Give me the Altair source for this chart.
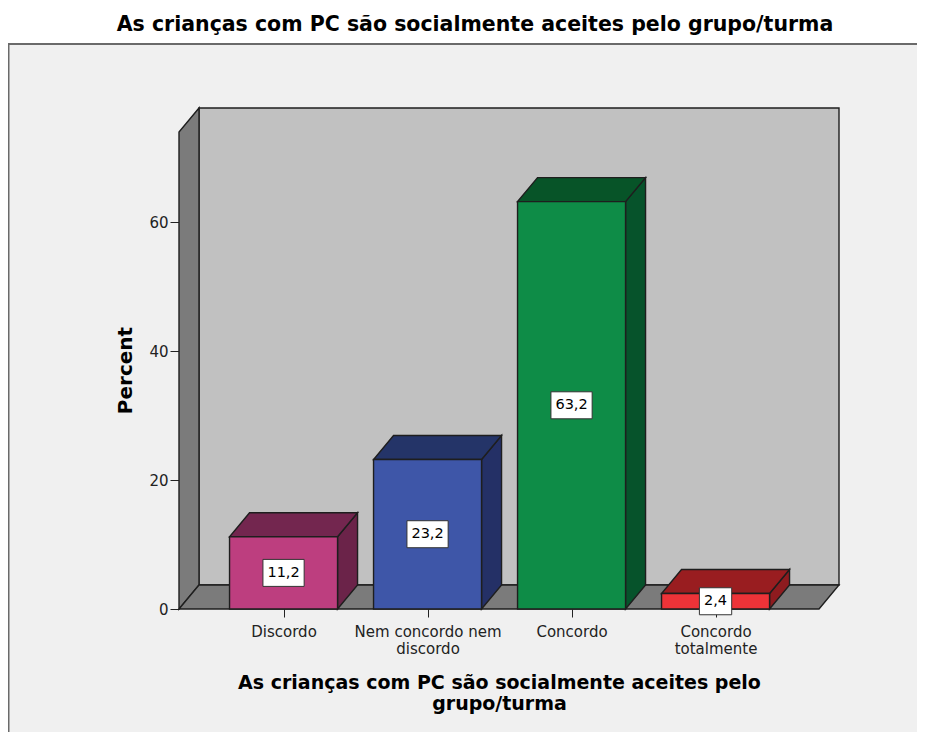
import json
import altair as alt
import pandas as pd

# ---------------- data ----------------
categories = ["Discordo", "Nem concordo nem discordo", "Concordo", "Concordo totalmente"]
label_lines = [["Discordo"], ["Nem concordo nem", "discordo"], ["Concordo"], ["Concordo", "totalmente"]]
percent = [11.2, 23.2, 63.2, 2.4]
front_colors = ["#bd3e7f", "#3e56a8", "#0e8c47", "#ee3338"]
top_colors = ["#73264f", "#243468", "#075428", "#991d20"]
side_colors = ["#6b2349", "#243066", "#06532b", "#8e1b1f"]
y_ticks = [0, 20, 40, 60]

chart_title = "As crianças com PC são socialmente aceites pelo grupo/turma"
x_title = ["As crianças com PC são socialmente aceites pelo", "grupo/turma"]
y_title = "Percent"

FONT = "DejaVu Sans"

# ---------------- geometry (scale units) ----------------
W, H = 640, 477
Y_MAX = 74.0
PX_PER_Y = H / Y_MAX
STEP_PX = 144.0
X_MAX = W / STEP_PX
BAR_START = 0.351
BAR_W = 0.75
CENTER = BAR_START + BAR_W / 2
DX = 20 / STEP_PX
DY = 24 / PX_PER_Y
BOX_HALF_H = 13.5 / PX_PER_Y

xs = alt.Scale(domain=[0, X_MAX], nice=False, zero=False)
ys = alt.Scale(domain=[0, Y_MAX], nice=False, zero=False)

rows, tops, sides = [], [], []
for i, (c, v) in enumerate(zip(categories, percent)):
    x0 = i + BAR_START
    x1 = x0 + BAR_W
    lab = f"{v:.1f}".replace(".", ",")
    box_px = len(lab.replace(",", "")) * 8.9 + 4.5 + 10
    hw = box_px / 2 / STEP_PX
    rows.append(dict(cat=c, x0=x0, x1=x1, xc=x0 + BAR_W / 2, v=v, zero=0.0,
                     front=front_colors[i], label=lab, mid=v / 2,
                     bx0=x0 + BAR_W / 2 - hw, bx1=x0 + BAR_W / 2 + hw,
                     by0=v / 2 - BOX_HALF_H, by1=v / 2 + BOX_HALF_H))
    tops.append(dict(cat=c, col=top_colors[i], y=v, xa=x0, xb=x1))
    tops.append(dict(cat=c, col=top_colors[i], y=v + DY, xa=x0 + DX, xb=x1 + DX))
    sides.append(dict(cat=c, col=side_colors[i], x=x1, ya=0.0, yb=v))
    sides.append(dict(cat=c, col=side_colors[i], x=x1 + DX, ya=DY, yb=v + DY))

bars = pd.DataFrame(rows)
top_df = pd.DataFrame(tops)
side_df = pd.DataFrame(sides)

back_df = pd.DataFrame([dict(x=DX, x2=X_MAX + DX, y=DY, y2=Y_MAX + DY)])
left_df = pd.DataFrame([dict(x=0.0, ya=0.0, yb=Y_MAX), dict(x=DX, ya=DY, yb=Y_MAX + DY)])
floor_df = pd.DataFrame([dict(y=0.0, xa=0.0, xb=X_MAX), dict(y=DY, xa=DX, xb=X_MAX + DX)])
one = pd.DataFrame([{"k": 1}])

EDGE = "#1e1e1e"
SW = 1.4

label_expr = f"{json.dumps(label_lines)}[round(datum.value - {CENTER})]"

x_axis = alt.Axis(values=[i + CENTER for i in range(len(categories))], labelExpr=label_expr,
                  title=x_title, titleFont=FONT, titleFontSize=19, titleFontWeight="bold",
                  titleColor="#000", titleBaseline="top", titleY=64, titleLineHeight=21,
                  labelFont=FONT, labelFontSize=15, labelColor="#222", labelLineHeight=17,
                  tickSize=8, tickColor="#222", labelPadding=7, domain=False, grid=False)
y_axis = alt.Axis(values=y_ticks, format="d", title=y_title, titleFont=FONT, titleFontSize=20,
                  titleFontWeight="bold", titleColor="#000", titleAngle=270, titleX=-54, titleY=238,
                  titleAlign="center", titleBaseline="middle",
                  labelFont=FONT, labelFontSize=15, labelColor="#222", tickSize=9,
                  tickColor="#222", labelPadding=2, domain=False, grid=False)


def X(field, **kw):
    return alt.X(field, scale=xs, axis=x_axis, title=x_title, **kw)


def Y(field, **kw):
    return alt.Y(field, scale=ys, axis=y_axis, title=y_title, **kw)


back = alt.Chart(back_df).mark_rect(fill="#c1c1c1", stroke=EDGE, strokeWidth=SW).encode(
    x=X("x:Q"), x2="x2", y=Y("y:Q"), y2="y2")

left = alt.Chart(left_df).mark_area(orient="vertical", fill="#7b7b7b", stroke=EDGE, strokeWidth=SW).encode(
    x=X("x:Q", stack=None), y=Y("ya:Q", stack=None), y2="yb")

floor = alt.Chart(floor_df).mark_area(orient="horizontal", fill="#7b7b7b", stroke=EDGE, strokeWidth=SW).encode(
    y=Y("y:Q", stack=None), x=X("xa:Q", stack=None), x2="xb")

side = alt.Chart(side_df).mark_area(orient="vertical", stroke=EDGE, strokeWidth=SW).encode(
    x=X("x:Q", stack=None), y=Y("ya:Q", stack=None), y2="yb",
    fill=alt.Fill("col:N", scale=None), detail="cat:N")

top = alt.Chart(top_df).mark_area(orient="horizontal", stroke=EDGE, strokeWidth=SW).encode(
    y=Y("y:Q", stack=None), x=X("xa:Q", stack=None), x2="xb",
    fill=alt.Fill("col:N", scale=None), detail="cat:N")

front = alt.Chart(bars).mark_rect(stroke=EDGE, strokeWidth=SW).encode(
    x=X("x0:Q"), x2="x1", y=Y("zero:Q"), y2="v",
    fill=alt.Fill("front:N", scale=None))

boxes = alt.Chart(bars).mark_rect(fill="white", stroke="#333", strokeWidth=1).encode(
    x=X("bx0:Q"), x2="bx1", y=Y("by0:Q"), y2="by1")

texts = alt.Chart(bars).mark_text(font=FONT, fontSize=14.5, color="#000", baseline="middle", align="center").encode(
    x=X("xc:Q"), y=Y("mid:Q"), text="label:N")

white_top = alt.Chart(one).mark_rect(fill="white").encode(
    x=alt.value(-172), x2=alt.value(760), y=alt.value(-126), y2=alt.value(-88))

frame = alt.Chart(one).mark_rect(fill="transparent", stroke="#6a6a6a", strokeWidth=2).encode(
    x=alt.value(-170.5), x2=alt.value(780), y=alt.value(-88), y2=alt.value(660))

title = alt.Chart(one).mark_text(text=chart_title, font=FONT, fontSize=20.5, fontWeight="bold",
                                 color="#000", align="center", baseline="middle").encode(
    x=alt.value(296), y=alt.value(-107))

chart = alt.layer(back, left, floor, side, top, front, boxes, texts, white_top, frame, title).properties(
    width=W, height=H,
    autosize=alt.AutoSizeParams(type="none"),
    padding={"left": 171, "top": 124, "right": 98, "bottom": 123},
    background="#f0f0f0",
).configure_view(strokeWidth=0)

chart.save("out.html", embed_options={"renderer": "svg", "actions": False})
